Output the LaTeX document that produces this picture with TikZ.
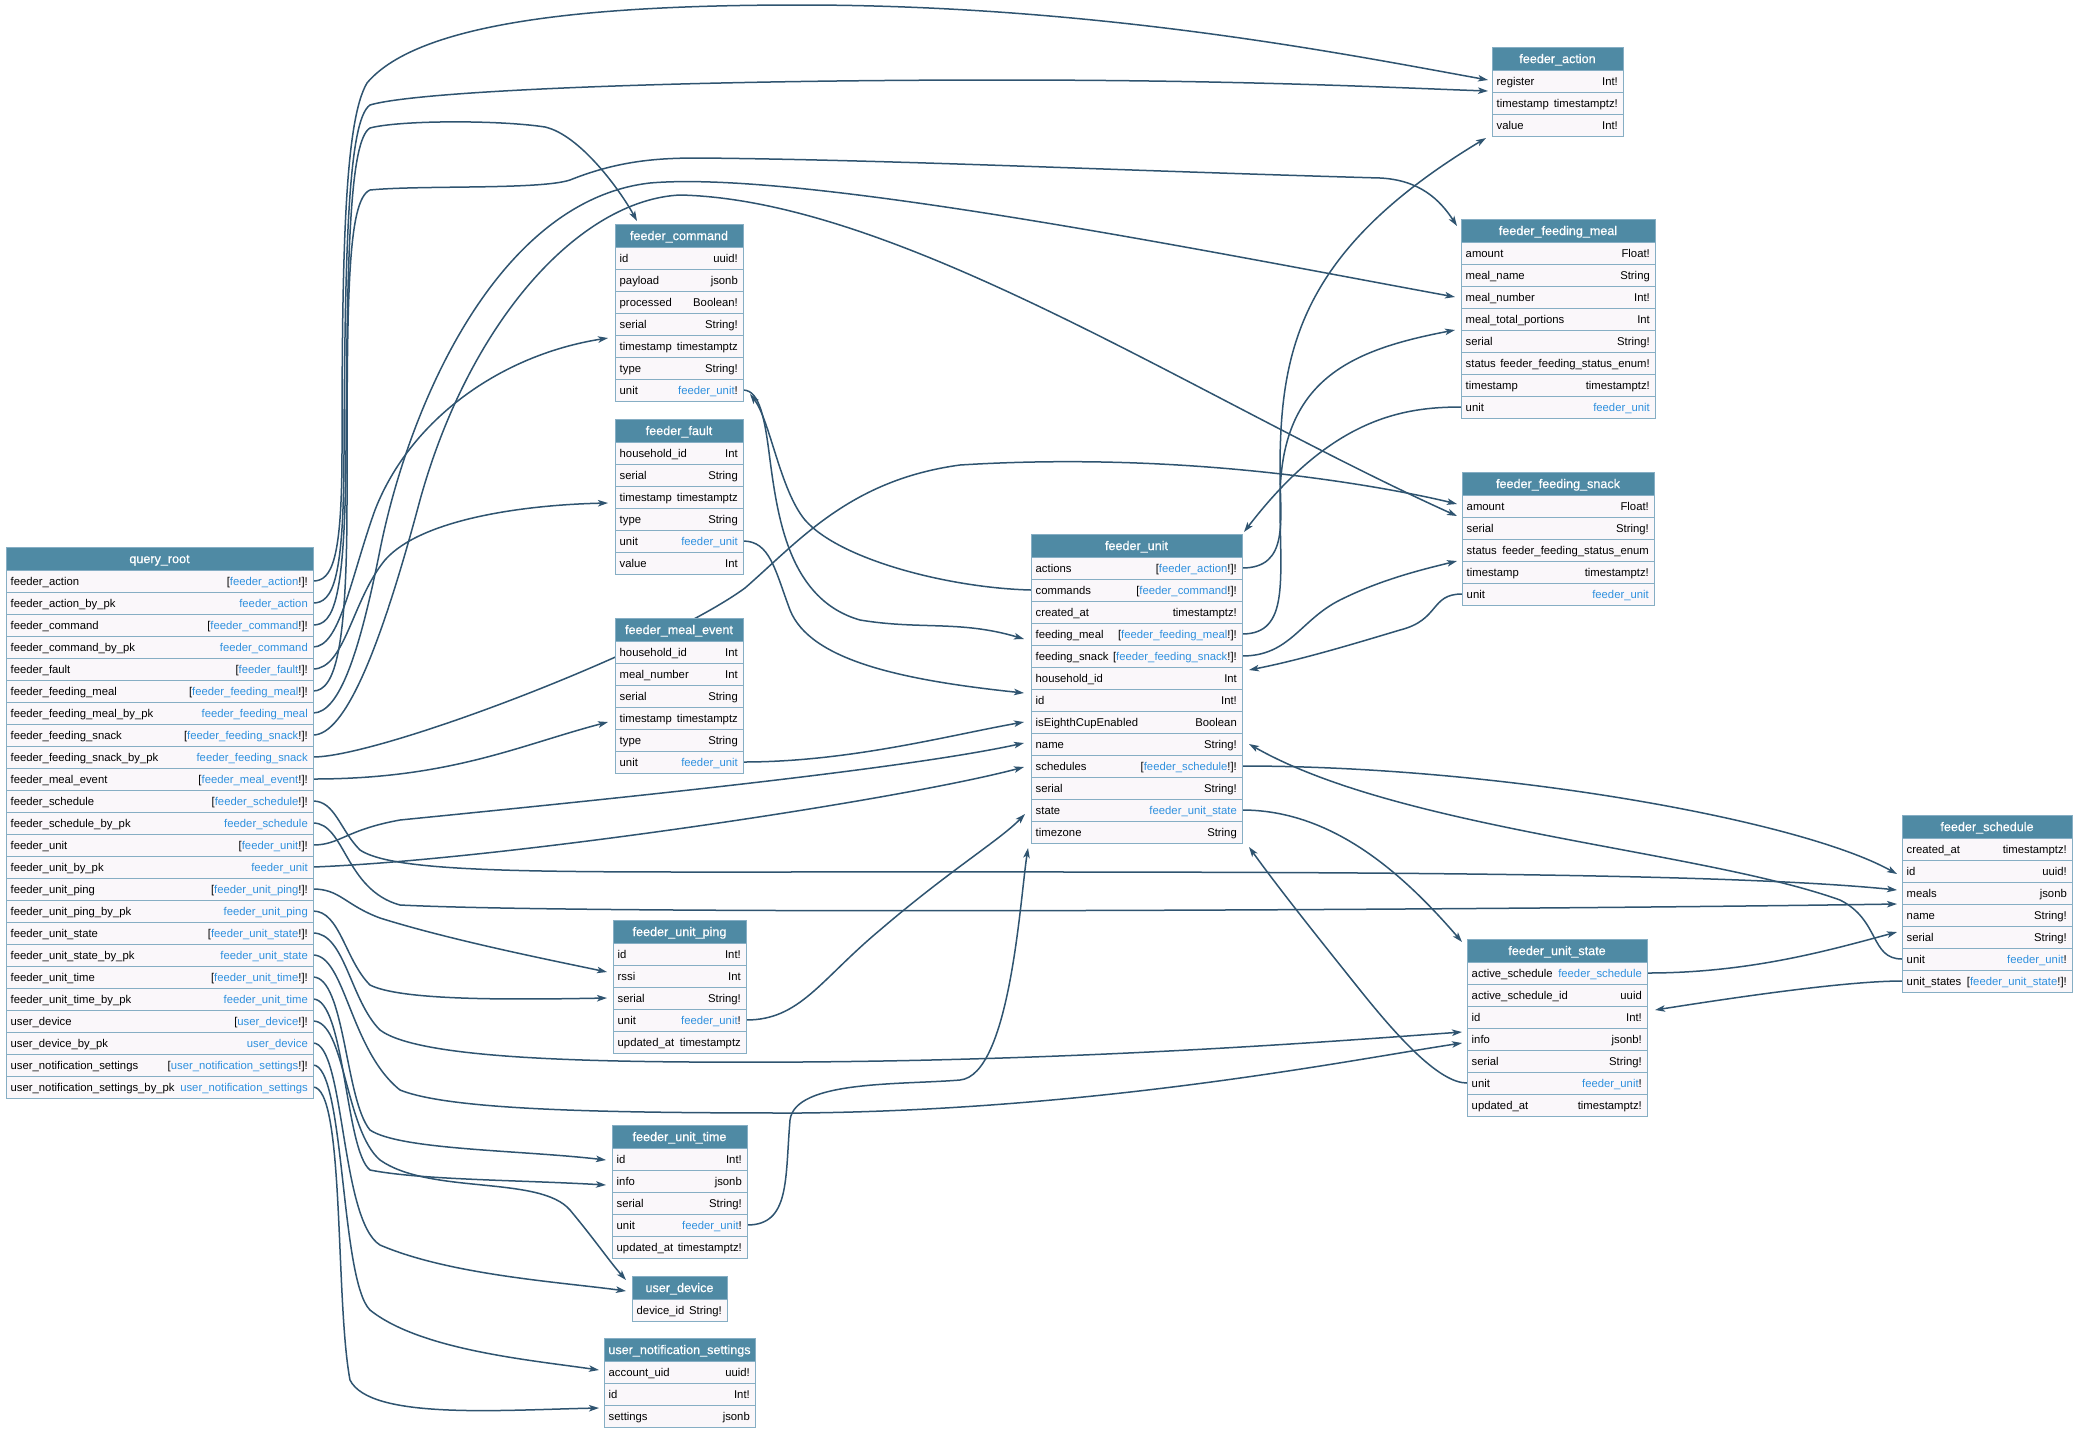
\documentclass[tikz,border=0pt]{standalone}
\usepackage{fontspec}
\setmainfont{Liberation Sans}
\newfontfamily\hdrfont[FakeBold=0.6]{Liberation Sans}
\usetikzlibrary{arrows.meta}
\pgfdeclarelayer{bg}
\pgfdeclarelayer{edges}
\pgfsetlayers{bg,edges,main}
\definecolor{hdrc}{HTML}{4F8AA4}
\definecolor{rowc}{HTML}{FAF7FA}
\definecolor{bordc}{HTML}{86AEC4}
\definecolor{linkc}{HTML}{2E90DE}
\definecolor{edgec}{HTML}{2F5470}
\newcommand\lk[1]{\textcolor{linkc}{#1}}
\newcommand\tbl[5]{%
  \gdef\curid{#1}\gdef\curw{#4}%
  \node[hdr, minimum width=#4pt, anchor=north west] (#1) at (#2,#3) {};
  \node[hdrtxt, anchor=base] at ([yshift=-4.6pt]#1.center) {#5};
  \xdef\curprev{#1}}
\newcommand\fld[3]{%
  \node[fieldbox, minimum width=\curw pt, anchor=north west] (\curid-#1) at (\curprev.south west) {};
  \node[fname, anchor=base west] at ([yshift=-4pt]\curid-#1.west) {#2};
  \node[ftype, anchor=base east] at ([yshift=-4pt]\curid-#1.east) {#3};
  \xdef\curprev{\curid-#1}}
\tikzset{
  hdr/.style={draw=bordc, fill=hdrc, line width=0.8pt, minimum height=23pt, inner sep=0pt, outer sep=0pt},
  hdrtxt/.style={text=white, font=\hdrfont\fontsize{12.6}{15}\selectfont, inner sep=0pt},
  fieldbox/.style={draw=bordc, fill=rowc, line width=0.8pt, minimum height=22pt, inner sep=0pt, outer sep=0pt},
  fname/.style={font=\fontsize{11.3}{13}\selectfont, inner xsep=4.5pt, inner ysep=0pt},
  ftype/.style={font=\fontsize{11.3}{13}\selectfont, inner xsep=5pt, inner ysep=0pt},
  link/.style={draw=edgec, line width=1.5pt, -{Stealth[length=10pt,width=6.5pt,inset=2.5pt]}},
}
\begin{document}
\begin{tikzpicture}[x=1pt,y=-1pt]
\useasboundingbox (0,0) rectangle (2076,1433);
\begin{pgfonlayer}{bg}
\fill[white] (0,0) rectangle (2076,1433);
\end{pgfonlayer}

% ---------- arrow targets ----------
\coordinate (fa-i1) at (1488,80);
\coordinate (fa-i2) at (1488,91);
\coordinate (fa-i3) at (1486,138);
\coordinate (fc-i1) at (637,221);
\coordinate (fc-i2) at (608,338);
\coordinate (fc-i3) at (750,394);
\coordinate (ff-i1) at (608,503);
\coordinate (fme-i1) at (608,722);
\coordinate (fup-i1) at (607,972);
\coordinate (fup-i2) at (607,998);
\coordinate (fut-i1) at (606,1160);
\coordinate (fut-i2) at (606,1185);
\coordinate (ud-i1) at (626,1280);
\coordinate (ud-i2) at (626,1291);
\coordinate (uns-i1) at (599,1370);
\coordinate (uns-i2) at (599,1408);
\coordinate (fm-i1) at (1457,226);
\coordinate (fm-i2) at (1455,297);
\coordinate (fm-i3) at (1455,330);
\coordinate (fs-i1) at (1457,504);
\coordinate (fs-i2) at (1457,516);
\coordinate (fs-i3) at (1457,561);
\coordinate (fu-i1) at (1244,532);
\coordinate (fu-i2) at (1249,670);
\coordinate (fu-i3) at (1249,744);
\coordinate (fu-i4) at (1249,847);
\coordinate (fu-l1) at (1024,639);
\coordinate (fu-l2) at (1024,693);
\coordinate (fu-l3) at (1024,722);
\coordinate (fu-l4) at (1024,743);
\coordinate (fu-l5) at (1024,767);
\coordinate (fu-l6) at (1025,814);
\coordinate (fu-l7) at (1028,848);
\coordinate (fus-i1) at (1462,942);
\coordinate (fus-i2) at (1462,1032);
\coordinate (fus-i3) at (1462,1043);
\coordinate (fus-i4) at (1655,1010);
\coordinate (fsc-i1) at (1897,874);
\coordinate (fsc-i2) at (1897,890);
\coordinate (fsc-i3) at (1897,904);
\coordinate (fsc-i4) at (1897,932);

% ---------- tables ----------
\tbl{qr}{6}{547}{307}{query\_root}
\fld{1}{feeder\_action}{[\lk{feeder\_action}!]!}
\fld{2}{feeder\_action\_by\_pk}{\lk{feeder\_action}}
\fld{3}{feeder\_command}{[\lk{feeder\_command}!]!}
\fld{4}{feeder\_command\_by\_pk}{\lk{feeder\_command}}
\fld{5}{feeder\_fault}{[\lk{feeder\_fault}!]!}
\fld{6}{feeder\_feeding\_meal}{[\lk{feeder\_feeding\_meal}!]!}
\fld{7}{feeder\_feeding\_meal\_by\_pk}{\lk{feeder\_feeding\_meal}}
\fld{8}{feeder\_feeding\_snack}{[\lk{feeder\_feeding\_snack}!]!}
\fld{9}{feeder\_feeding\_snack\_by\_pk}{\lk{feeder\_feeding\_snack}}
\fld{10}{feeder\_meal\_event}{[\lk{feeder\_meal\_event}!]!}
\fld{11}{feeder\_schedule}{[\lk{feeder\_schedule}!]!}
\fld{12}{feeder\_schedule\_by\_pk}{\lk{feeder\_schedule}}
\fld{13}{feeder\_unit}{[\lk{feeder\_unit}!]!}
\fld{14}{feeder\_unit\_by\_pk}{\lk{feeder\_unit}}
\fld{15}{feeder\_unit\_ping}{[\lk{feeder\_unit\_ping}!]!}
\fld{16}{feeder\_unit\_ping\_by\_pk}{\lk{feeder\_unit\_ping}}
\fld{17}{feeder\_unit\_state}{[\lk{feeder\_unit\_state}!]!}
\fld{18}{feeder\_unit\_state\_by\_pk}{\lk{feeder\_unit\_state}}
\fld{19}{feeder\_unit\_time}{[\lk{feeder\_unit\_time}!]!}
\fld{20}{feeder\_unit\_time\_by\_pk}{\lk{feeder\_unit\_time}}
\fld{21}{user\_device}{[\lk{user\_device}!]!}
\fld{22}{user\_device\_by\_pk}{\lk{user\_device}}
\fld{23}{user\_notification\_settings}{[\lk{user\_notification\_settings}!]!}
\fld{24}{user\_notification\_settings\_by\_pk}{\lk{user\_notification\_settings}}

\tbl{fc}{615}{224}{128}{feeder\_command}
\fld{1}{id}{uuid!}
\fld{2}{payload}{jsonb}
\fld{3}{processed}{Boolean!}
\fld{4}{serial}{String!}
\fld{5}{timestamp}{timestamptz}
\fld{6}{type}{String!}
\fld{7}{unit}{\lk{feeder\_unit}!}

\tbl{ff}{615}{419}{128}{feeder\_fault}
\fld{1}{household\_id}{Int}
\fld{2}{serial}{String}
\fld{3}{timestamp}{timestamptz}
\fld{4}{type}{String}
\fld{5}{unit}{\lk{feeder\_unit}}
\fld{6}{value}{Int}

\tbl{fme}{615}{618}{128}{feeder\_meal\_event}
\fld{1}{household\_id}{Int}
\fld{2}{meal\_number}{Int}
\fld{3}{serial}{String}
\fld{4}{timestamp}{timestamptz}
\fld{5}{type}{String}
\fld{6}{unit}{\lk{feeder\_unit}}

\tbl{fup}{613}{920}{133}{feeder\_unit\_ping}
\fld{1}{id}{Int!}
\fld{2}{rssi}{Int}
\fld{3}{serial}{String!}
\fld{4}{unit}{\lk{feeder\_unit}!}
\fld{5}{updated\_at}{timestamptz}

\tbl{fut}{612}{1125}{135}{feeder\_unit\_time}
\fld{1}{id}{Int!}
\fld{2}{info}{jsonb}
\fld{3}{serial}{String!}
\fld{4}{unit}{\lk{feeder\_unit}!}
\fld{5}{updated\_at}{timestamptz!}

\tbl{ud}{632}{1276}{95}{user\_device}
\fld{1}{device\_id}{String!}

\tbl{uns}{604}{1338}{151}{user\_notification\_settings}
\fld{1}{account\_uid}{uuid!}
\fld{2}{id}{Int!}
\fld{3}{settings}{jsonb}

\tbl{fu}{1031}{534}{211}{feeder\_unit}
\fld{1}{actions}{[\lk{feeder\_action}!]!}
\fld{2}{commands}{[\lk{feeder\_command}!]!}
\fld{3}{created\_at}{timestamptz!}
\fld{4}{feeding\_meal}{[\lk{feeder\_feeding\_meal}!]!}
\fld{5}{feeding\_snack}{[\lk{feeder\_feeding\_snack}!]!}
\fld{6}{household\_id}{Int}
\fld{7}{id}{Int!}
\fld{8}{isEighthCupEnabled}{Boolean}
\fld{9}{name}{String!}
\fld{10}{schedules}{[\lk{feeder\_schedule}!]!}
\fld{11}{serial}{String!}
\fld{12}{state}{\lk{feeder\_unit\_state}}
\fld{13}{timezone}{String}

\tbl{fa}{1492}{47}{131}{feeder\_action}
\fld{1}{register}{Int!}
\fld{2}{timestamp}{timestamptz!}
\fld{3}{value}{Int!}

\tbl{fm}{1461}{219}{194}{feeder\_feeding\_meal}
\fld{1}{amount}{Float!}
\fld{2}{meal\_name}{String}
\fld{3}{meal\_number}{Int!}
\fld{4}{meal\_total\_portions}{Int}
\fld{5}{serial}{String!}
\fld{6}{status}{feeder\_feeding\_status\_enum!}
\fld{7}{timestamp}{timestamptz!}
\fld{8}{unit}{\lk{feeder\_unit}}

\tbl{fs}{1462}{472}{192}{feeder\_feeding\_snack}
\fld{1}{amount}{Float!}
\fld{2}{serial}{String!}
\fld{3}{status}{feeder\_feeding\_status\_enum}
\fld{4}{timestamp}{timestamptz!}
\fld{5}{unit}{\lk{feeder\_unit}}

\tbl{fus}{1467}{939}{180}{feeder\_unit\_state}
\fld{1}{active\_schedule}{\lk{feeder\_schedule}}
\fld{2}{active\_schedule\_id}{uuid}
\fld{3}{id}{Int!}
\fld{4}{info}{jsonb!}
\fld{5}{serial}{String!}
\fld{6}{unit}{\lk{feeder\_unit}!}
\fld{7}{updated\_at}{timestamptz!}

\tbl{fsc}{1902}{815}{170}{feeder\_schedule}
\fld{1}{created\_at}{timestamptz!}
\fld{2}{id}{uuid!}
\fld{3}{meals}{jsonb}
\fld{4}{name}{String!}
\fld{5}{serial}{String!}
\fld{6}{unit}{\lk{feeder\_unit}!}
\fld{7}{unit\_states}{[\lk{feeder\_unit\_state}!]!}

\begin{pgfonlayer}{edges}
% ---------- query_root connectors ----------
\draw[link] (qr-1.east) .. controls (332,581) and (342,560) .. (342,450) .. controls (342,250) and (345,120) .. (367,83) .. controls (420,20) and (600,5) .. (800,5) .. controls (1100,5) and (1350,55) .. (fa-i1);
\draw[link] (qr-2.east) .. controls (333,603) and (344,580) .. (344,450) .. controls (345,250) and (348,120) .. (370,105) .. controls (420,90) and (700,80) .. (1000,80) .. controls (1250,80) and (1400,88) .. (fa-i2);
\draw[link] (qr-3.east) .. controls (334,625) and (345,600) .. (346,450) .. controls (347,250) and (350,140) .. (370,128) .. controls (400,120) and (500,120) .. (545,127) .. controls (580,135) and (620,190) .. (fc-i1);
\draw[link] (qr-4.east) .. controls (340,647) and (350,580) .. (375,510) .. controls (410,420) and (500,355) .. (fc-i2);
\draw[link] (qr-5.east) .. controls (345,669) and (352,600) .. (385,560) .. controls (420,520) and (520,505) .. (ff-i1);
\draw[link] (qr-6.east) .. controls (335,691) and (347,650) .. (347,500) .. controls (347,300) and (347,200) .. (370,190) .. controls (420,185) and (540,190) .. (570,180) .. controls (620,160) and (660,158) .. (700,158) .. controls (900,160) and (1100,170) .. (1380,178) .. controls (1420,180) and (1440,200) .. (fm-i1);
\draw[link] (qr-7.east) .. controls (340,713) and (360,650) .. (380,550) .. controls (410,400) and (500,200) .. (650,183) .. controls (800,170) and (1200,250) .. (fm-i2);
\draw[link] (qr-8.east) .. controls (345,735) and (380,650) .. (420,500) .. controls (470,320) and (580,200) .. (680,195) .. controls (900,200) and (1200,400) .. (fs-i2);
\draw[link] (qr-9.east) .. controls (380,757) and (660,650) .. (745,588) .. controls (800,540) and (850,480) .. (960,465) .. controls (1200,450) and (1400,490) .. (fs-i1);
\draw[link] (qr-10.east) .. controls (450,779) and (520,745) .. (fme-i1);
\draw[link] (qr-11.east) .. controls (335,801) and (340,830) .. (360,850) .. controls (390,870) and (500,872) .. (700,872) .. controls (1200,872) and (1700,870) .. (fsc-i2);
\draw[link] (qr-12.east) .. controls (345,823) and (345,890) .. (400,905) .. controls (600,915) and (1500,910) .. (fsc-i3);
\draw[link] (qr-13.east) .. controls (340,845) and (345,830) .. (400,820) .. controls (600,800) and (900,770) .. (fu-l4);
\draw[link] (qr-14.east) .. controls (500,860) and (900,800) .. (fu-l5);
\draw[link] (qr-15.east) .. controls (340,889) and (345,905) .. (380,918) .. controls (450,940) and (550,960) .. (fup-i1);
\draw[link] (qr-16.east) .. controls (340,911) and (345,960) .. (370,985) .. controls (400,1000) and (500,1000) .. (fup-i2);
\draw[link] (qr-17.east) .. controls (345,933) and (350,1000) .. (380,1030) .. controls (420,1060) and (600,1063) .. (800,1062) .. controls (1100,1060) and (1350,1040) .. (fus-i2);
\draw[link] (qr-18.east) .. controls (345,955) and (350,1050) .. (400,1090) .. controls (450,1110) and (600,1113) .. (800,1113) .. controls (1100,1110) and (1350,1060) .. (fus-i3);
\draw[link] (qr-19.east) .. controls (345,977) and (345,1100) .. (370,1130) .. controls (400,1150) and (520,1150) .. (fut-i1);
\draw[link] (qr-20.east) .. controls (345,999) and (345,1150) .. (370,1170) .. controls (420,1180) and (520,1180) .. (fut-i2);
\draw[link] (qr-21.east) .. controls (345,1021) and (345,1130) .. (380,1160) .. controls (430,1195) and (540,1175) .. (570,1210) .. controls (595,1240) and (610,1262) .. (ud-i1);
\draw[link] (qr-22.east) .. controls (345,1043) and (340,1220) .. (380,1245) .. controls (450,1275) and (560,1282) .. (ud-i2);
\draw[link] (qr-23.east) .. controls (345,1065) and (340,1280) .. (370,1310) .. controls (420,1350) and (530,1360) .. (uns-i1);
\draw[link] (qr-24.east) .. controls (345,1087) and (335,1300) .. (350,1380) .. controls (370,1420) and (500,1410) .. (uns-i2);

% ---------- other connectors ----------
\draw[link] (fc-7.east) .. controls (760,390) and (765,420) .. (770,460) .. controls (778,520) and (790,600) .. (860,620) .. controls (920,630) and (960,620) .. (fu-l1);
\draw[link] (fu-2.west) .. controls (950,588) and (840,560) .. (805,520) .. controls (780,490) and (770,420) .. (fc-i3);
\draw[link] (ff-5.east) .. controls (770,541) and (775,570) .. (790,610) .. controls (810,660) and (900,680) .. (fu-l2);
\draw[link] (fme-6.east) .. controls (850,762) and (950,735) .. (fu-l3);
\draw[link] (fup-4.east) .. controls (800,1020) and (820,980) .. (880,930) .. controls (950,870) and (1000,840) .. (fu-l6);
\draw[link] (fut-4.east) .. controls (790,1225) and (785,1180) .. (790,1120) .. controls (795,1080) and (900,1085) .. (960,1080) .. controls (1010,1075) and (1020,900) .. (fu-l7);
\draw[link] (fu-1.east) .. controls (1290,568) and (1280,520) .. (1280,470) .. controls (1280,350) and (1300,250) .. (fa-i3);
\draw[link] (fu-4.east) .. controls (1290,634) and (1280,580) .. (1280,500) .. controls (1280,380) and (1350,350) .. (fm-i3);
\draw[link] (fu-5.east) .. controls (1290,656) and (1300,620) .. (1340,600) .. controls (1380,580) and (1420,570) .. (fs-i3);
\draw[link] (fu-10.east) .. controls (1500,766) and (1800,820) .. (fsc-i1);
\draw[link] (fu-12.east) .. controls (1330,810) and (1400,870) .. (fus-i1);
\draw[link] (fm-8.west) .. controls (1400,407) and (1330,420) .. (fu-i1);
\draw[link] (fs-5.west) .. controls (1430,594) and (1440,620) .. (1400,630) .. controls (1350,645) and (1300,660) .. (fu-i2);
\draw[link] (fsc-6.west) .. controls (1870,959) and (1880,920) .. (1840,900) .. controls (1700,850) and (1400,830) .. (fu-i3);
\draw[link] (fsc-7.west) .. controls (1850,981) and (1750,995) .. (fus-i4);
\draw[link] (fus-1.east) .. controls (1750,973) and (1830,950) .. (fsc-i4);
\draw[link] (fus-6.west) .. controls (1440,1083) and (1400,1040) .. (1360,990) .. controls (1320,940) and (1280,890) .. (fu-i4);
\end{pgfonlayer}
\end{tikzpicture}
\end{document}
